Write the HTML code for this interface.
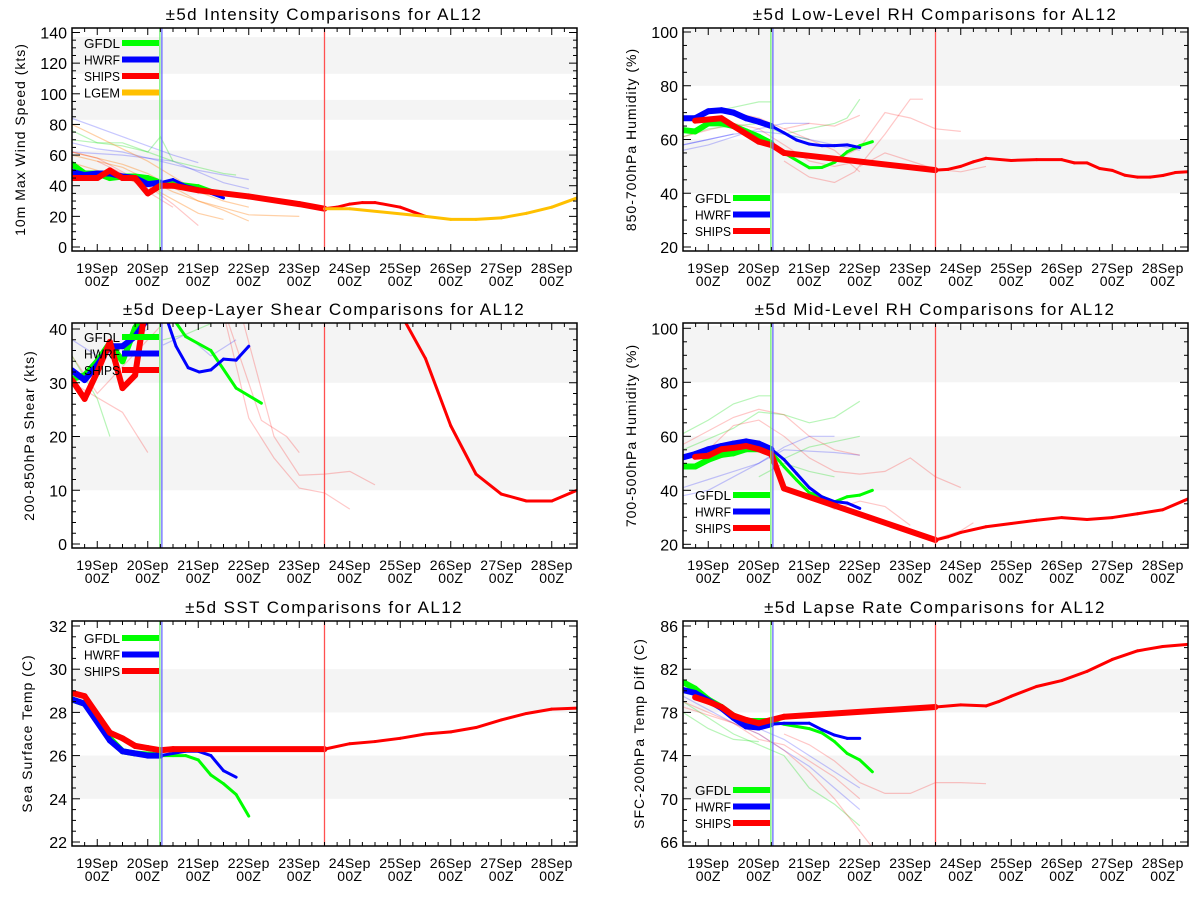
<!DOCTYPE html>
<html><head><meta charset="utf-8"><style>
body{margin:0;background:#fff;}
svg{display:block;font-family:"Liberation Sans",sans-serif;}
</style></head><body>
<svg id="chart" width="1200" height="900" viewBox="0 0 1200 900" xmlns="http://www.w3.org/2000/svg"></svg>
<script>
// ---------- data ----------
const dayLabels = ["19Sep","20Sep","21Sep","22Sep","23Sep","24Sep","25Sep","26Sep","27Sep","28Sep"];
const legendModels = ["GFDL","HWRF","SHIPS","LGEM"];

// Panel 1: intensity
const p1GfdlT = [-0.5,-0.25,0,0.25,0.5,0.75,1,1.25,1.5,2,2.25,2.5];
const p1GfdlV = [54,48,48,45,46,46,45,42,42,40,37,35];
const p1HwrfT = [-0.5,-0.25,0,0.25,0.5,0.75,1,1.25,1.5,1.75,2,2.25,2.5];
const p1HwrfV = [49,47,48,48,46,45,41,42,44,40,38,35,32];
const p1ShipsT = [-0.5,-0.25,0,0.25,0.5,0.75,1,1.25,1.5,2,3,4,4.5,4.75,5,5.25,5.5,6,6.5];
const p1ShipsV = [45,45,45,50,45,45,35,40,40,37,33,28,25,26,28,29,29,26,20];
const p1LgemT = [4.5,5,6.5,7,7.5,8,8.5,9,9.5];
const p1LgemV = [25,25,20,18,18,19,22,26,32];

// Panel 2: shear
const p2GfdlT = [-0.5,-0.25,0,0.25,0.5,0.75,1,1.5,1.75,2.25,2.75,3.25];
const p2GfdlV = [30.7,31.4,34,37.4,34,40.2,44,42,38.6,36,29,26.2];
const p2HwrfT = [-0.5,-0.25,0,0.25,0.5,0.75,1,1.3,1.56,1.8,2.02,2.25,2.5,2.75,3];
const p2HwrfV = [32.3,30.5,33.3,36.8,36.8,38.6,42,44,36.8,32.8,32,32.4,34.4,34.2,36.8];
const p2ShipsT = [-0.5,-0.25,0,0.25,0.5,0.75,0.92,1,5.5,6,6.5,7,7.5,8,8.5,9,9.5];
const p2ShipsV = [30.5,27,32,37.6,29,31.4,42,48,52,43,34.5,22,13,9.3,8,8,10];

// Panel 3: SST
const p3GfdlT = [-0.5,-0.25,0.25,0.5,0.75,1,1.25,1.5,1.75,2,2.25,2.5,2.75,3];
const p3GfdlV = [28.6,28.4,26.8,26.2,26.1,26.05,26.0,26.0,26.0,25.8,25.1,24.7,24.2,23.2];
const p3HwrfT = [-0.5,-0.25,0.25,0.5,0.75,1,1.25,1.5,1.75,2,2.25,2.5,2.75];
const p3HwrfV = [28.6,28.4,26.7,26.2,26.1,26.0,26.0,26.1,26.2,26.2,26.0,25.3,25.0];
const p3ShipsT = [-0.5,-0.25,0.25,0.5,0.75,1,1.25,1.5,4.5,5,5.5,6,6.5,7,7.5,8,8.5,9,9.5];
const p3ShipsV = [28.9,28.75,27.06,26.8,26.45,26.35,26.25,26.3,26.3,26.55,26.65,26.8,27.0,27.1,27.3,27.65,27.95,28.15,28.2];

// Panel 4: low-level RH
const p4GfdlT = [-0.5,-0.26,0,0.26,0.5,0.75,1,1.25,1.5,2,2.25,2.5,2.75,3,3.25];
const p4GfdlV = [63.5,63,66,66,65,63,61,58.6,55,49.5,49.6,51.5,55.4,57.7,59.2];
const p4HwrfT = [-0.5,-0.26,0,0.26,0.5,0.75,1,1.25,1.5,1.75,2,2.25,2.5,2.75,3];
const p4HwrfV = [67.9,67.9,70.5,70.9,70,67.9,66.6,65,62.5,59.8,58.3,57.7,57.7,58,57];
const p4ShipsT = [-0.26,0.26,0.5,1,1.27,1.5,4.5,4.75,5,5.25,5.5,6,6.5,7,7.25,7.5,7.75,8,8.25,8.5,8.75,9,9.25,9.5];
const p4ShipsV = [67,67.9,65,59.2,57.8,55,48.6,48.9,50,51.7,53,52.2,52.5,52.5,51.3,51.3,49.2,48.5,46.7,46,46,46.6,47.7,48];

// Panel 5: mid-level RH
const p5GfdlT = [-0.5,-0.26,0,0.26,0.5,0.75,1,1.25,1.5,1.75,2,2.25,2.5,2.75,3,3.25];
const p5GfdlV = [48.8,48.8,51.3,53.1,53.7,55.2,55.2,54.3,48.8,43.8,39.1,37.6,35.7,37.6,38.2,40];
const p5HwrfT = [-0.5,-0.26,0,0.26,0.5,0.75,1,1.25,1.5,1.75,2,2.25,2.5,2.75,3];
const p5HwrfV = [52.2,53.4,55.2,56.4,57.3,58.1,57.3,55.2,51.4,46.2,41,37.6,35.8,35.3,33.3];
const p5ShipsT = [-0.26,0,0.26,0.5,0.75,1,1.25,1.5,4.5,4.75,5,5.5,6,6.5,7,7.5,8,8.5,9,9.5];
const p5ShipsV = [52.4,52.8,55.2,55.7,56.4,55.2,53.4,40.7,21.6,22.8,24.4,26.5,27.7,28.9,29.9,29.2,29.9,31.3,32.8,36.8];

// Panel 6: lapse rate
const p6GfdlT = [-0.5,-0.26,0,0.26,0.5,0.75,1,1.25,1.5,2,2.25,2.5,2.75,3,3.25];
const p6GfdlV = [80.8,80.2,79.2,78.5,77.7,77.2,77.2,77.2,76.9,76.5,76.1,75.3,74.2,73.6,72.5];
const p6HwrfT = [-0.5,-0.26,0,0.26,0.5,0.75,1,1.25,1.5,2,2.25,2.5,2.75,3];
const p6HwrfV = [80.07,79.8,79.1,78.4,77.5,76.7,76.6,76.9,77.0,77.0,76.4,75.9,75.6,75.6];
const p6ShipsT = [-0.26,0,0.26,0.5,0.75,1,1.25,1.5,4.5,5,5.5,5.75,6,6.5,7,7.5,8,8.5,9,9.5];
const p6ShipsV = [79.4,79.0,78.5,77.7,77.3,77.0,77.3,77.6,78.5,78.7,78.6,79.0,79.5,80.4,80.95,81.8,82.9,83.7,84.1,84.3];

// faint earlier-forecast lines: colour key, times, values
const p1Faint = [
 ["b",[-0.5,0,0.5,1,1.5,2],[84,78,72,66,60,55]],
 ["b",[-0.5,0,0.5,1,1.5,2,2.5,3],[68,64,62,58,54,50,47,44]],
 ["b",[-0.5,0.5,1.5,2.5,3],[62,60,56,42,38]],
 ["g",[-0.5,0,0.5,1,1.5,2,2.5,2.75],[76,68,68,62,56,52,48,47]],
 ["g",[-0.5,0.5,1,1.25,1.5],[70,66,62,72,56]],
 ["o",[-0.5,0,0.5,1,1.5,2,2.5,3],[80,72,64,56,46,36,30,26]],
 ["o",[-0.5,0.5,1,2,3,4],[62,54,48,30,21,20]],
 ["o",[-0.5,0.5,1.5,2.5,3],[60,52,36,24,17]],
 ["o",[-0.5,1,2,2.5],[55,40,22,18]],
 ["r",[-0.5,0,1,1.5,2],[62,58,40,28,14]],
 ["r",[0,0.5,1,1.5],[56,48,36,26]]
];
const p2Faint = [
 ["r",[2.55,3,3.5,4,4.5,5],[41,23.4,16,10.4,9.5,6.5]],
 ["r",[2.9,3.5,4,4.5,5,5.5],[41,20,12.8,13,13.5,11]],
 ["r",[2.6,3.25,3.75,4],[41,23,20,17]],
 ["r",[-0.5,0.5,1],[30,24.5,17]],
 ["r",[-0.5,0,0.5,1,1.3],[35,28,33,38,41]],
 ["g",[-0.5,0,0.25],[35,27,20]],
 ["g",[1.3,1.75,2.25],[38,39,41]],
 ["b",[-0.5,0,0.5,1],[38,35,37,40]],
 ["b",[1.3,1.75,2.25,2.75],[37,39,35,38]]
];
const p3Faint = [];
const p4Faint = [
 ["g",[-0.5,0.5,1,1.25],[68,72,74,74]],
 ["g",[1.5,2,2.5,2.75,3],[62,64,66,68,75]],
 ["g",[-0.5,0,1,1.5,2],[61,64,66,62,60]],
 ["b",[-0.5,0,0.5,1,1.5,2,2.5,3],[58,60,62,63,62,60,58,56]],
 ["b",[-0.5,0,0.5,1,1.5,2],[56,58,61,64,66,66]],
 ["b",[-0.5,0,0.5],[58,60,62]],
 ["r",[-0.5,0.5,1,1.5,2,2.5,3],[61,66,64,58,52,50,52]],
 ["r",[0.5,1,1.5,2,2.5,3],[70,68,64,60,56,48]],
 ["r",[1.5,2,2.5,3],[64,66,65,69]],
 ["r",[1.5,2,2.5,2.9,3.5,4,4.25],[52,46,44,48,62,75,75]],
 ["r",[2.5,3,3.5,4,4.5,5],[52,57,70,68,64,63]],
 ["r",[3,3.5,4,4.5,5,5.5],[50,55,52,49,48,50]]
];
const p5Faint = [
 ["g",[-0.5,0,0.5,1,1.25],[61,66,72,75,75]],
 ["g",[-0.5,0.5,1,1.5,2,2.5,3],[55,63,69,68,65,67,73]],
 ["g",[1.3,2,3],[50,56,60]],
 ["g",[1,1.5,2,2.5],[45,50,47,45]],
 ["b",[-0.5,0,0.5,1,1.5,2,2.5],[41,44,47,50,56,60,60]],
 ["b",[-0.5,0,0.5,1,1.5,2.5,3],[38,40,45,50,55,54,53]],
 ["r",[-0.5,0,0.5,1,1.5,2,2.5,3],[57,62,67,70,68,60,55,53]],
 ["r",[0,0.5,1,1.5,2,2.5,3,3.5,4,4.5,5],[55,64,66,60,52,47,46,47,52,45,41]],
 ["r",[2,2.5,3,3.5,4],[38,33,36,34,27]],
 ["r",[4,4.5,5,5.25],[24,22,25,28]]
];
const p6Faint = [
 ["g",[-0.5,0,0.5,1],[78,76.5,75.5,75.3]],
 ["g",[-0.5,0,0.5,1,1.5,2,2.5,3],[79,77.5,76,75,74,71,69.5,67.5]],
 ["b",[-0.5,0.5,1,1.5,2,2.5,3],[79.5,77,76,74.5,73,71,69]],
 ["b",[1,1.5,2,2.5,3],[76.5,75.5,74,72.5,71]],
 ["r",[-0.5,0,0.5,1,1.5,2,2.5,3,3.25],[79,78,77,76,74.5,72.5,70,67,65.5]],
 ["r",[-0.5,0.5,1,1.5,2,2.5,3],[78.5,77,75.5,75,73.5,72,70]],
 ["r",[1.5,2,2.5,3,3.5,4,4.5,5,5.5],[76,75,73.5,71.5,70.5,70.5,71.5,71.5,71.4]]
];

const p1Bands = [[34,63],[83,96],[113,137]];
const p2Bands = [[10,20],[30,41]];
const p3Bands = [[24,26],[28,30]];
const p4Bands = [[40,60],[80,101]];
const p5Bands = [[40,60],[80,101]];
const p6Bands = [[70,74],[78,82]];

const p1Ticks = [0,20,40,60,80,100,120,140];
const p2Ticks = [0,10,20,30,40];
const p3Ticks = [22,24,26,28,30,32];
const p4Ticks = [20,40,60,80,100];
const p5Ticks = [20,40,60,80,100];
const p6Ticks = [66,70,74,78,82,86];

// ---------- drawing ----------
const NS = "http://www.w3.org/2000/svg";
const svg = document.getElementById("chart");
const COL = {g:"rgba(0,220,0,0.28)", b:"rgba(0,0,255,0.22)", r:"rgba(255,0,0,0.22)", o:"rgba(255,120,0,0.35)"};
function mk(tag, attrs, parent){
  const e = document.createElementNS(NS, tag);
  for (const k in attrs) e.setAttribute(k, attrs[k]);
  (parent||svg).appendChild(e);
  return e;
}

function panel(cfg){
  const g = mk("g", {});
  
  
  const L = cfg.L, R = L + 505, T = cfg.T, B = cfg.B;
  const xs = d => L + (d + 0.5) * 50.5;
  const ys = v => cfg.p0 + (v - cfg.v0) * (cfg.p1 - cfg.p0) / (cfg.v1 - cfg.v0);
  const cid = "clip" + cfg.id;
  const cp = mk("clipPath", {id: cid}, g);
  mk("rect", {x: L, y: T, width: 505, height: B - T}, cp);
  cfg.bands.forEach(b => {
    const y1 = Math.max(T, ys(b[1])), y0 = Math.min(B, ys(b[0]));
    const r = mk("rect", {x: L, y: y1, width: 505, height: y0 - y1, fill: "#f4f4f4"}, g);
    
    
  });
  const plot = mk("g", {"clip-path": "url(#" + cid + ")"}, g);
  cfg.faint.forEach(f => {
    const pts = f[1].map((t, i) => xs(t).toFixed(1) + "," + ys(f[2][i]).toFixed(1)).join(" ");
    const pl = mk("polyline", {points: pts, fill: "none", stroke: COL[f[0]], "stroke-width": 1.2}, plot);
    
    
  });
  [[1.24, "#70f070"], [1.28, "#6a6aff"], [4.5, "#ff5050"]].forEach(v => {
    const ln = mk("line", {x1: xs(v[0]), x2: xs(v[0]), y1: T, y2: B, stroke: v[1], "stroke-width": 1.3}, g);
    
    
  });
  cfg.series.forEach(s => {
    const T0 = s.t, V0 = s.v;
    for (let i = 0; i < T0.length - 1; i++) {
      const w = T0[i + 1] <= s.cut + 0.01 ? 6 : 3;
      const seg = mk("line", {x1: xs(T0[i]), y1: ys(V0[i]), x2: xs(T0[i + 1]), y2: ys(V0[i + 1]),
        stroke: s.c, "stroke-width": w, "stroke-linecap": "round"}, plot);
      
      
    }
  });
  const fr = mk("rect", {x: L, y: T, width: 505, height: B - T, fill: "none", stroke: "#000", "stroke-width": 1.5}, g);
  
  
  for (let q = -2; q <= 38; q++) {
    const d = q * 0.25, x = xs(d);
    if (x <= L + 0.5 || x >= R - 0.5) continue;
    const len = q % 4 === 0 ? 7 : 4;
    mk("line", {x1: x, x2: x, y1: B, y2: B - len, stroke: "#000", "stroke-width": 1}, g);
    mk("line", {x1: x, x2: x, y1: T, y2: T + len, stroke: "#000", "stroke-width": 1}, g);
  }
  dayLabels.forEach((lab, i) => {
    const t = mk("text", {x: xs(i), y: B + 22, "font-size": 14, "letter-spacing": 0.3, "text-anchor": "middle"}, g);
    t.textContent = lab;
    
    
    const t2 = mk("text", {x: xs(i), y: B + 35, "font-size": 14, "letter-spacing": 0.3, "text-anchor": "middle"}, g);
    t2.textContent = "00Z";
    
    
  });
  const tk = cfg.ticks, step = tk[1] - tk[0], minor = step / cfg.minorN;
  for (let v = tk[0] - step; v <= tk[tk.length - 1] + step; v += minor) {
    const y = ys(v);
    if (y < T + 0.5 || y > B - 0.5) continue;
    const major = Math.abs(((v - tk[0]) / step) - Math.round((v - tk[0]) / step)) < 1e-6;
    const len = major ? 8 : 4;
    mk("line", {x1: L, x2: L + len, y1: y, y2: y, stroke: "#000", "stroke-width": 1}, g);
    mk("line", {x1: R, x2: R - len, y1: y, y2: y, stroke: "#000", "stroke-width": 1}, g);
  }
  tk.forEach(v => {
    const t = mk("text", {x: L - 5, y: ys(v) + 6, "font-size": 16, "text-anchor": "end"}, g);
    t.textContent = v;
    
    
  });
  const tt = mk("text", {x: L + 252, y: T - 8, "font-size": 17, "letter-spacing": 1.4, "text-anchor": "middle"}, g);
  tt.textContent = cfg.title;
  
  
  const yc = (T + B) / 2;
  const yt = mk("text", {x: cfg.yx, y: yc, "font-size": 14, "letter-spacing": 1, "text-anchor": "middle", transform: "rotate(-90 " + cfg.yx + " " + yc + ")"}, g);
  yt.textContent = cfg.ytitle;
  
  
  cfg.series.forEach((s, i) => {
    const ly = cfg.legY + i * 16.5;
    const lt = mk("text", {x: L + 12, y: ly + 5, "font-size": 13, textLength: 36, lengthAdjust: "spacingAndGlyphs"}, g);
    lt.textContent = s.n;
    
    
    const ll = mk("line", {x1: L + 50, x2: L + 87, y1: ly, y2: ly, stroke: s.c, "stroke-width": 6}, g);
    
    
  });
}

const GREEN = "#00ff00", BLUE = "#0000ff", RED = "#ff0000", ORANGE = "#ffc000";
function trio(gT, gV, hT, hV, sT, sV){
  return [
    {n: legendModels[0], c: GREEN, t: gT, v: gV, cut: 1.25},
    {n: legendModels[1], c: BLUE, t: hT, v: hV, cut: 1.3},
    {n: legendModels[2], c: RED, t: sT, v: sV, cut: 4.5}
  ];
}
const s1 = trio(p1GfdlT, p1GfdlV, p1HwrfT, p1HwrfV, p1ShipsT, p1ShipsV);
s1.push({n: legendModels[3], c: ORANGE, t: p1LgemT, v: p1LgemV, cut: -9});

panel({id: 1, name: "intensity-panel", L: 72, T: 28, B: 251, v0: 0, p0: 247, v1: 140, p1: 32.5,
  bands: p1Bands, ticks: p1Ticks, minorN: 4, faint: p1Faint, series: s1,
  title: "±5d Intensity Comparisons for AL12", ytitle: "10m Max Wind Speed (kts)", yx: 25, legY: 43});
panel({id: 2, name: "shear-panel", L: 72, T: 323, B: 548, v0: 0, p0: 544, v1: 40, p1: 329,
  bands: p2Bands, ticks: p2Ticks, minorN: 5, faint: p2Faint,
  series: trio(p2GfdlT, p2GfdlV, p2HwrfT, p2HwrfV, p2ShipsT, p2ShipsV),
  title: "±5d Deep-Layer Shear Comparisons for AL12", ytitle: "200-850hPa Shear (kts)", yx: 34, legY: 337});
panel({id: 3, name: "sst-panel", L: 72, T: 621, B: 846, v0: 22, p0: 842, v1: 32, p1: 626,
  bands: p3Bands, ticks: p3Ticks, minorN: 4, faint: p3Faint,
  series: trio(p3GfdlT, p3GfdlV, p3HwrfT, p3HwrfV, p3ShipsT, p3ShipsV),
  title: "±5d SST Comparisons for AL12", ytitle: "Sea Surface Temp (C)", yx: 32, legY: 638});
panel({id: 4, name: "low-level-rh-panel", L: 683, T: 28, B: 251, v0: 20, p0: 247, v1: 100, p1: 32,
  bands: p4Bands, ticks: p4Ticks, minorN: 4, faint: p4Faint,
  series: trio(p4GfdlT, p4GfdlV, p4HwrfT, p4HwrfV, p4ShipsT, p4ShipsV),
  title: "±5d Low-Level RH Comparisons for AL12", ytitle: "850-700hPa Humidity (%)", yx: 636, legY: 198});
panel({id: 5, name: "mid-level-rh-panel", L: 683, T: 323, B: 548, v0: 20, p0: 544.3, v1: 100, p1: 328.3,
  bands: p5Bands, ticks: p5Ticks, minorN: 4, faint: p5Faint,
  series: trio(p5GfdlT, p5GfdlV, p5HwrfT, p5HwrfV, p5ShipsT, p5ShipsV),
  title: "±5d Mid-Level RH Comparisons for AL12", ytitle: "700-500hPa Humidity (%)", yx: 636, legY: 495});
panel({id: 6, name: "lapse-rate-panel", L: 683, T: 621, B: 846, v0: 66, p0: 842, v1: 86, p1: 626,
  bands: p6Bands, ticks: p6Ticks, minorN: 4, faint: p6Faint,
  series: trio(p6GfdlT, p6GfdlV, p6HwrfT, p6HwrfV, p6ShipsT, p6ShipsV),
  title: "±5d Lapse Rate Comparisons for AL12", ytitle: "SFC-200hPa Temp Diff (C)", yx: 644, legY: 790});
</script>
</body></html>
